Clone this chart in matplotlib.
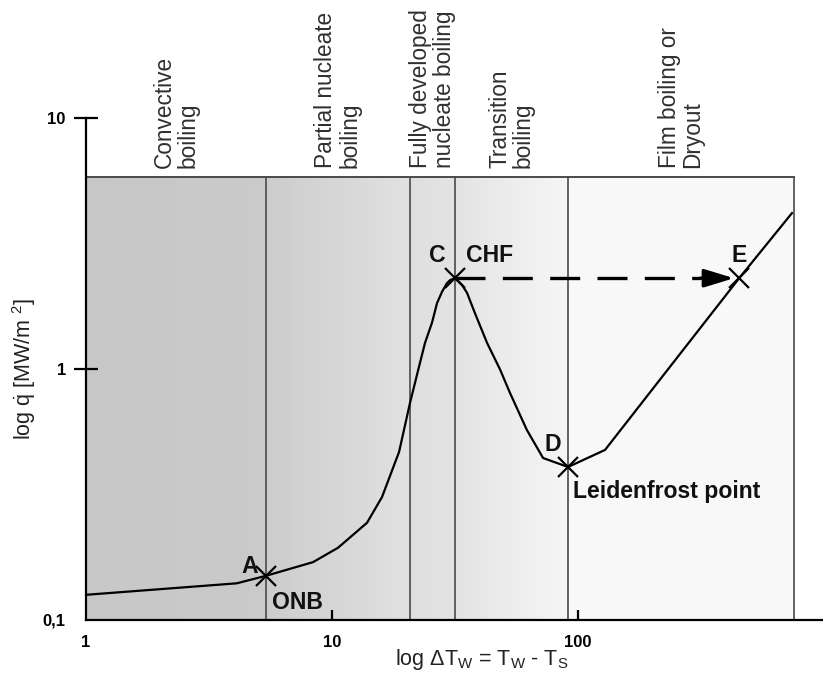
import numpy as np
import matplotlib
matplotlib.use('Agg')
import matplotlib.pyplot as plt

plt.rcParams['font.family'] = ['Liberation Sans', 'DejaVu Sans']
plt.rcParams['mathtext.fontset'] = 'custom'
plt.rcParams['mathtext.rm'] = 'Liberation Sans'
plt.rcParams['mathtext.it'] = 'Liberation Sans:italic'
plt.rcParams['mathtext.bf'] = 'Liberation Sans:bold'

# ---------------- data ----------------
dT = [1, 4.1, 5.39, 8.37, 10.58, 13.88, 15.97, 18.73, 20.75, 22.4, 23.88, 25.5, 26.73,
      28.0, 29.35, 30.2, 31.6, 33.8, 35.4, 38.1, 42.7, 48.2, 52.9, 62.0, 72.1, 91.1,
      128.8, 452, 741]
q = [0.126, 0.140, 0.150, 0.170, 0.194, 0.244, 0.309, 0.467, 0.732, 0.99, 1.27, 1.53, 1.83,
     2.03, 2.20, 2.26, 2.30, 2.16, 2.01, 1.67, 1.27, 0.996, 0.803, 0.571, 0.442, 0.407,
     0.476, 2.30, 4.18]

point_names = ['A', 'C', 'D', 'E']
point_dT = [5.39, 31.6, 91.1, 452]
point_q = [0.150, 2.30, 0.407, 2.30]

region_bounds = [1, 5.39, 20.7, 31.6, 91.1, 755]
region_top = 5.8
region_names = ['Convective\nboiling', 'Partial nucleate\nboiling',
                'Fully developed\nnucleate boiling', 'Transition\nboiling',
                'Film boiling or\nDryout']
region_gray = [(0.78, 0.79), (0.80, 0.88), (0.87, 0.89), (0.89, 0.96), (0.97, 0.97)]

x_ticks = [1, 10, 100]
x_ticklabels = ['1', '10', '100']
y_ticks = [0.1, 1, 10]
y_ticklabels = ['0,1', '1', '10']

# ---------------- figure ----------------
W, H = 823, 684
fig = plt.figure(figsize=(W / 100, H / 100), dpi=100)
ax = fig.add_axes([86 / W, 64 / H, 738 / W, 502 / H])
ax.set_xscale('log')
ax.set_yscale('log')
ax.set_xlim(1, 1000)
ax.set_ylim(0.1, 10)
ax.patch.set_alpha(0)

# shaded regions with gradients
for (x0, x1), (g0, g1) in zip(zip(region_bounds[:-1], region_bounds[1:]), region_gray):
    n = 40
    xe = np.logspace(np.log10(x0), np.log10(x1), n + 1)
    vals = np.linspace(g0, g1, n)[None, :]
    ax.pcolormesh(xe, [0.1, region_top], vals, cmap='gray', vmin=0, vmax=1,
                  shading='flat', zorder=0, edgecolors='none', antialiased=False)

for b in region_bounds[1:]:
    ax.plot([b, b], [0.1, region_top], color='#4a4a4a', lw=1.2, zorder=1)
ax.plot([region_bounds[0], region_bounds[-1]], [region_top, region_top],
        color='#4a4a4a', lw=1.4, zorder=1)

# region labels
for (x0, x1), name in zip(zip(region_bounds[:-1], region_bounds[1:]), region_names):
    xc = np.sqrt(x0 * x1)
    ax.annotate(name, xy=(xc, region_top), xytext=(0, 7), textcoords='offset points',
                rotation=90, ha='center', va='bottom', multialignment='left',
                fontsize=16.3, color='#303030', annotation_clip=False,
                linespacing=1.05)

# curve
ax.plot(dT, q, color='black', lw=1.6, zorder=3, solid_joinstyle='round')

# markers
ax.plot(point_dT, point_q, linestyle='none', marker='x', ms=15, mew=1.6,
        color='black', zorder=4)

# dashed CHF -> E arrow
xc_, yc_ = point_dT[1], point_q[1]
ye_ = point_q[3]
x_base = 10 ** (614 / 246)
x_tip = 10 ** (648 / 246)
ax.plot([xc_, x_base], [yc_, yc_], color='black', lw=2.4,
        linestyle=(0, (9.0, 5.2)), zorder=3, dash_capstyle='butt')
ax.annotate('', xy=(x_tip, ye_), xytext=(x_base, ye_),
            arrowprops=dict(arrowstyle='-|>,head_length=1.8,head_width=0.55',
                            lw=2.4, color='black', shrinkA=0, shrinkB=0))

# point labels
lab = dict(fontsize=16.6, fontweight='bold', color='#111111', textcoords='offset points')
ax.annotate('A', xy=(point_dT[0], point_q[0]), xytext=(-11.5, 7), ha='center', va='center', **lab)
ax.annotate('ONB', xy=(point_dT[0], point_q[0]), xytext=(4, -19.5), ha='left', va='center', **lab)
ax.annotate('C', xy=(point_dT[1], point_q[1]), xytext=(-13, 16), ha='center', va='center', **lab)
ax.annotate('CHF', xy=(point_dT[1], point_q[1]), xytext=(8, 16), ha='left', va='center', **lab)
ax.annotate('D', xy=(point_dT[2], point_q[2]), xytext=(-11, 16.5), ha='center', va='center', **lab)
ax.annotate('E', xy=(point_dT[3], point_q[3]), xytext=(0, 16), ha='center', va='center', **lab)
ax.annotate('Leidenfrost point', xy=(point_dT[2], point_q[2]), xytext=(3.5, -17.5),
            ha='left', va='center', **lab)

# axes styling
for s in ['top', 'right']:
    ax.spines[s].set_visible(False)
for s in ['left', 'bottom']:
    ax.spines[s].set_linewidth(1.6)
ax.set_xticks(x_ticks)
ax.set_xticklabels(x_ticklabels, fontsize=12, fontweight='bold')
ax.set_yticks(y_ticks)
ax.set_yticklabels(y_ticklabels, fontsize=12, fontweight='bold')
ax.xaxis.set_minor_locator(matplotlib.ticker.NullLocator())
ax.yaxis.set_minor_locator(matplotlib.ticker.NullLocator())
ax.tick_params(axis='x', direction='in', length=7.5, width=1.6, pad=11)
ax.tick_params(axis='y', direction='inout', length=17, width=1.6, pad=6)
ax.yaxis.get_major_ticks()[0].tick1line.set_visible(False)
ax.xaxis.get_major_ticks()[0].tick1line.set_visible(False)

fig.text(482 / W, 1 - 660 / H,
         r'log $\Delta$T$_{\mathrm{W}}$ = T$_{\mathrm{W}}$ - T$_{\mathrm{S}}$',
         ha='center', va='center', fontsize=15.5, color='#222222')
fig.text(24 / W, 1 - 369 / H, r'log $\dot{\mathrm{q}}$ [MW/m $^{\mathrm{2}}$]',
         ha='center', va='center', rotation=90, fontsize=15.5, color='#222222')

fig.savefig('out.png', dpi=100)
